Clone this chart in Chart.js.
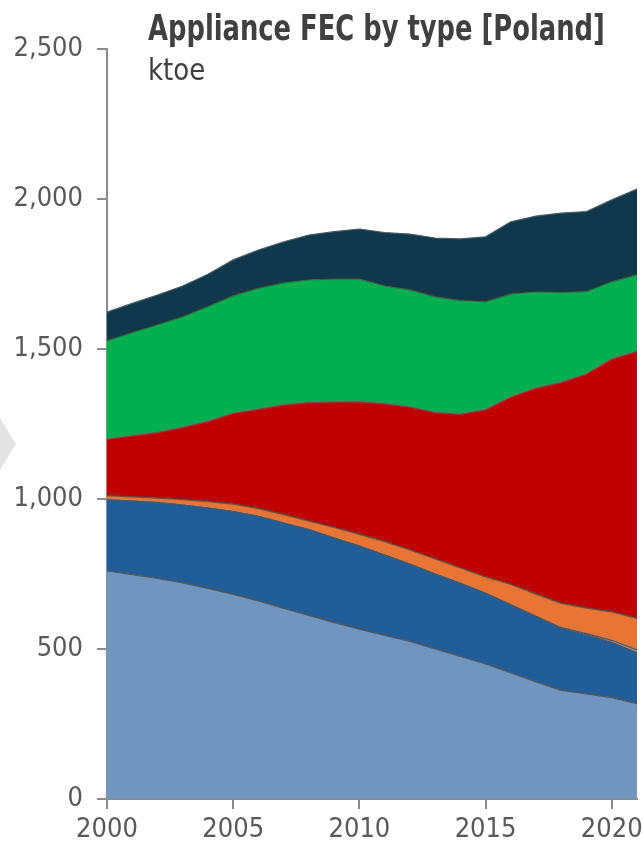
<!DOCTYPE html>
<html>
<head>
<meta charset="utf-8">
<script src="https://cdn.jsdelivr.net/npm/chart.js@4.4.0/dist/chart.umd.min.js"></script>
<style>
  body { margin: 0; background: #fff; }
  #wrap { position: relative; width: 643px; height: 850px; overflow: hidden; }
  .txt {
    position: absolute; left: 148px; white-space: nowrap; color: #404040;
    font-family: 'DejaVu Sans Condensed', 'DejaVu Sans', sans-serif;
    line-height: 1.15; transform-origin: 0 0;
  }
  #title { top: 8px; font-size: 35px; font-weight: bold; }
  #unit { top: 52px; font-size: 31px; }
  #chev {
    position: absolute; left: 0; top: 418px; width: 16px; height: 52px;
    background: #e4e4e4; clip-path: polygon(0 0, 100% 50%, 0 100%);
  }
</style>
</head>
<body>
<div id="wrap">
  <canvas id="myChart" width="643" height="850"></canvas>
  <div id="chev"></div>
  <div id="title" class="txt">Appliance FEC by type [Poland]</div>
  <div id="unit" class="txt">ktoe</div>
</div>
<script>
  const years = [2000, 2001, 2002, 2003, 2004, 2005, 2006, 2007, 2008, 2009, 2010,
                 2011, 2012, 2013, 2014, 2015, 2016, 2017, 2018, 2019, 2020, 2021];

  // ktoe per appliance type, stacked bottom to top
  const lighting = [760, 748, 735, 720, 702, 682, 660, 635, 612, 588, 566,
                    545, 525, 500, 475, 450, 420, 390, 362, 350, 338, 318];
  const cold = [237, 245, 253, 260, 268, 276, 282, 285, 286, 282, 277,
                268, 258, 250, 244, 236, 227, 218, 207, 197, 184, 170];
  const other = [0, 0, 0, 0, 0, 0, 0, 0, 0, 0, 0,
                 0, 0, 0, 0, 0, 0, 1, 2, 4, 7, 9];
  const wet = [14, 14, 15, 18, 21, 25, 26, 28, 28, 35, 39,
               45, 47, 50, 51, 54, 68, 74, 81, 85, 95, 105];
  const ict = [188, 203, 218, 240, 267, 302, 331, 365, 395, 418, 442,
               459, 476, 488, 512, 557, 624, 686, 736, 780, 842, 889];
  const tv = [328, 344, 359, 369, 383, 392, 403, 407, 409, 410, 409,
              393, 391, 386, 379, 360, 344, 321, 300, 275, 258, 256];
  const cooking = [96, 98, 100, 103, 108, 120, 128, 137, 150, 158, 167,
                   178, 186, 196, 206, 217, 241, 253, 265, 267, 273, 286];

  const yTicks = [0, 500, 1000, 1500, 2000, 2500];
  const xTicks = [2000, 2005, 2010, 2015, 2020];

  const layers = [
    { label: 'Lighting', values: lighting, color: '#7096c0' },
    { label: 'Cold appliances', values: cold, color: '#215d98' },
    { label: 'Other', values: other, color: '#a98c8c' },
    { label: 'Wet appliances', values: wet, color: '#e97434' },
    { label: 'ICT', values: ict, color: '#c00000' },
    { label: 'TV', values: tv, color: '#00b050' },
    { label: 'Cooking', values: cooking, color: '#10384c' },
  ];

  // squeeze the heading text to the narrow widths of the original
  const fitWidth = (id, w) => {
    const el = document.getElementById(id);
    el.style.transform = 'scaleX(' + (w / el.offsetWidth) + ')';
  };
  fitWidth('title', 457);
  fitWidth('unit', 57);

  const font = "'DejaVu Sans Condensed', 'DejaVu Sans', sans-serif";
  const axisGrey = '#8c8c8c';
  const noPad = (axis) => {
    axis.paddingLeft = 0; axis.paddingRight = 0;
    axis.paddingTop = 0; axis.paddingBottom = 0;
  };

  new Chart(document.getElementById('myChart'), {
    type: 'line',
    data: {
      datasets: layers.map((l, i) => ({
        label: l.label,
        data: years.map((yr, j) => ({ x: yr, y: l.values[j] })),
        backgroundColor: l.color,
        borderColor: '#555555',
        borderWidth: 1.2,
        pointRadius: 0,
        tension: 0,
        fill: i === 0 ? 'origin' : '-1',
      })),
    },
    options: {
      responsive: false,
      animation: false,
      layout: { padding: { top: 49, right: 6, left: 0, bottom: 0 } },
      plugins: { legend: { display: false }, tooltip: { enabled: false } },
      scales: {
        x: {
          type: 'linear',
          min: 2000,
          max: 2021,
          afterBuildTicks: (axis) => { axis.ticks = xTicks.map(v => ({ value: v })); },
          border: { color: axisGrey, width: 2 },
          grid: { drawOnChartArea: false, tickLength: 10, color: axisGrey, lineWidth: 2 },
          ticks: {
            padding: 5,
            color: '#595959',
            font: { family: font, size: 27 },
            callback: (v) => String(v),
            maxRotation: 0,
          },
          afterFit: (axis) => { axis.height = 51; noPad(axis); },
        },
        y: {
          stacked: true,
          min: 0,
          max: 2500,
          afterBuildTicks: (axis) => { axis.ticks = yTicks.map(v => ({ value: v })); },
          border: { color: axisGrey, width: 2 },
          grid: { drawOnChartArea: false, tickLength: 10, color: axisGrey, lineWidth: 2 },
          ticks: {
            padding: 14,
            color: '#595959',
            font: { family: font, size: 27 },
            callback: (v) => v.toLocaleString('en-US'),
          },
          afterFit: (axis) => { axis.width = 107; noPad(axis); },
        },
      },
    },
  });
</script>
</body>
</html>
